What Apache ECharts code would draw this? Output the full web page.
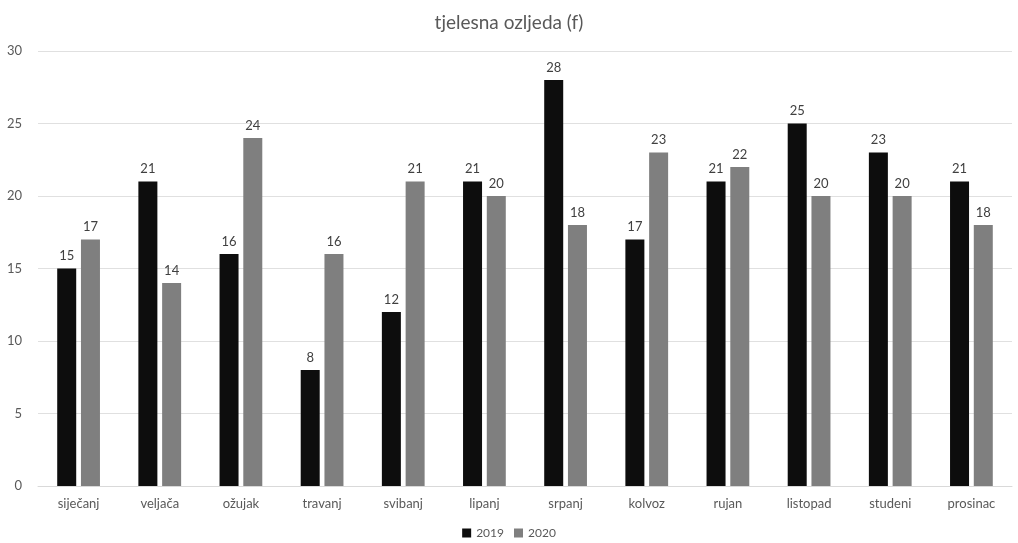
<!DOCTYPE html>
<html><head><meta charset="utf-8">
<script src="https://cdn.jsdelivr.net/npm/echarts@6/dist/echarts.min.js"></script>
<style>html,body{margin:0;padding:0;background:#fff}#c{width:1018px;height:543px}</style>
</head><body><div id="c"></div>
<script>
const categories = ['siječanj','veljača','ožujak','travanj','svibanj','lipanj','srpanj','kolvoz','rujan','listopad','studeni','prosinac'];
const values2019 = [15,21,16,8,12,21,28,17,21,25,23,21];
const values2020 = [17,14,24,16,21,20,18,23,22,20,20,18];
const yTicks = {min:0,max:30,interval:5};
const FONT = 'Lato, "Open Sans", sans-serif';
const chart = echarts.init(document.getElementById('c'));
const lbl = {show:true,position:'top',color:'#404040',fontSize:13,fontFamily:FONT,distance:6};
chart.setOption({
  animation:false,
  title:{text:'tjelesna ozljeda (f)',left:'center',top:8,textStyle:{color:'#595959',fontSize:19,fontWeight:'normal',fontFamily:FONT}},
  legend:{bottom:-1,itemWidth:9,itemHeight:9,itemGap:10,icon:'rect',textStyle:{color:'#595959',fontSize:12,fontFamily:FONT},data:['2019','2020']},
  grid:{left:38,right:6,top:51,bottom:57,containLabel:false},
  xAxis:{type:'category',data:categories,axisLine:{lineStyle:{color:'#d9d9d9'}},axisTick:{show:false},
    axisLabel:{color:'#595959',fontSize:13,fontFamily:FONT,margin:11}},
  yAxis:{type:'value',min:yTicks.min,max:yTicks.max,interval:yTicks.interval,
    axisLabel:{color:'#595959',fontSize:13,fontFamily:FONT,margin:16},
    splitLine:{lineStyle:{color:'#e0e0e0'}},axisLine:{show:false}},
  series:[
    {name:'2019',type:'bar',data:values2019,barWidth:19,barGap:'25%',itemStyle:{color:'#0d0d0d'},label:lbl},
    {name:'2020',type:'bar',data:values2020,barWidth:19,itemStyle:{color:'#7f7f7f'},label:lbl}
  ]
});
</script></body></html>
